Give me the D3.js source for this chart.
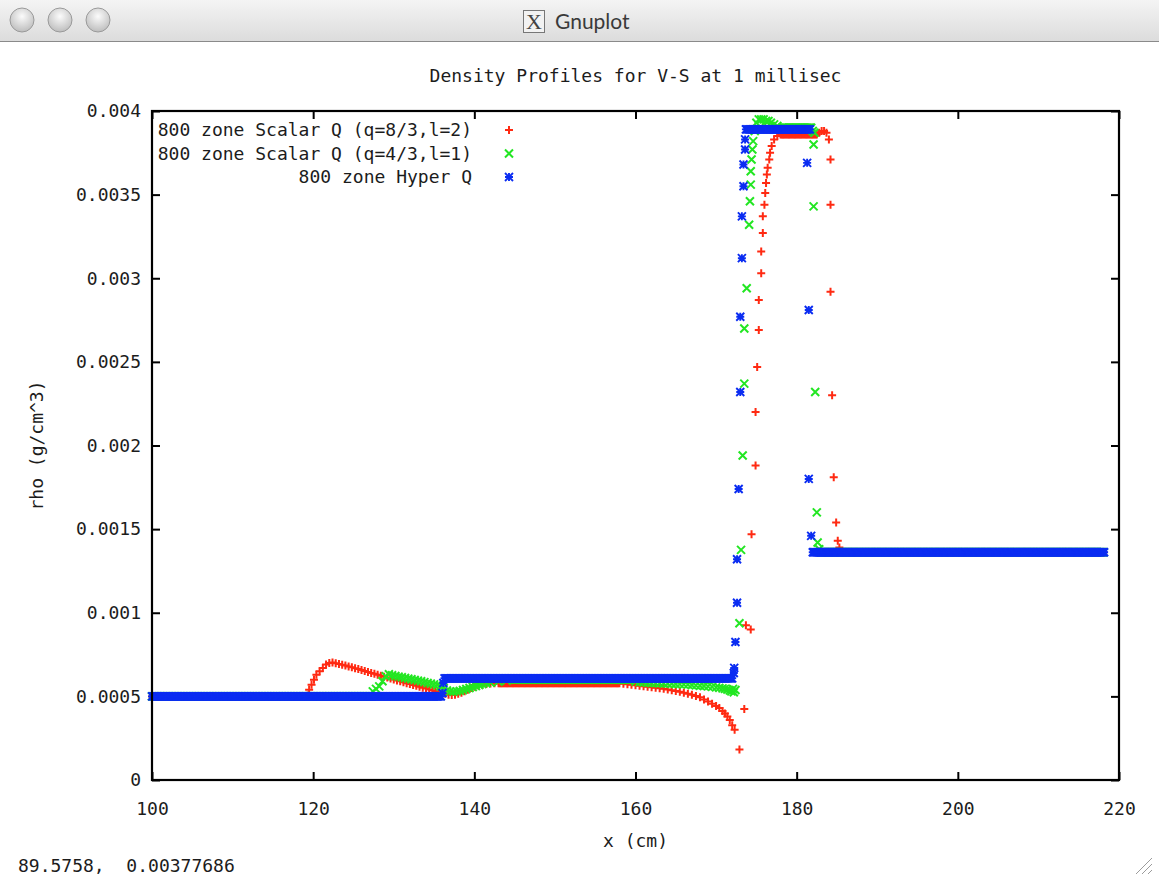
<!DOCTYPE html>
<html>
<head>
<meta charset="utf-8">
<script src="https://cdn.jsdelivr.net/npm/d3@7"></script>
<style>
  body { margin: 0; background: #fff; }
  svg text { font-family: "DejaVu Sans Mono", monospace; fill: #1c1c1c; }
</style>
</head>
<body>
<svg id="Vis" width="1159" height="882"></svg>
<script>

// ---- data ----
var xTicks = [100, 120, 140, 160, 180, 200, 220];
var yTicks = [0, 0.0005, 0.001, 0.0015, 0.002, 0.0025, 0.003, 0.0035, 0.004];

var seriesNames = ["800 zone Scalar Q (q=8/3,l=2)", "800 zone Scalar Q (q=4/3,l=1)", "800 zone Hyper Q"];
var seriesColors = ["#ff2a12", "#22e622", "#0a2cf2"];
var seriesMarks = ["plus", "cross", "star"];

var zoneDx = 0.15;   // mesh spacing of the flat runs

// flat runs: [xStart, xEnd, rho]
var scalar83Flat = [[100, 119.2, 0.0005], [143, 158, 0.000578], [178.0, 182.6, 0.00386], [185.4, 218.2, 0.001362]];
var scalar43Flat = [[100, 127.3, 0.0005], [145, 159.5, 0.0006], [178.2, 181.8, 0.0039], [183.0, 218.2, 0.001362]];
var hyperFlat    = [[100, 135.9, 0.0005], [136.3, 172.1, 0.000608], [173.7, 181.7, 0.00389], [182.0, 218.2, 0.001362]];

// single zones in the ramps and the shock: [x, rho]
var scalar83Pts = [
  [119.3,0.000505],[119.5,0.00054],[119.8,0.00057],[120.1,0.0006],[120.4,0.00063],[120.8,0.00065],
  [121.2,0.00067],[121.6,0.00069],[122.0,0.0007],[122.4,0.000702],[122.8,0.000698],[123.2,0.000694],
  [123.6,0.000689],[124.0,0.000684],[124.4,0.000679],[124.8,0.000674],[125.2,0.000668],[125.6,0.000663],
  [126.0,0.000657],[126.4,0.000651],[126.8,0.000645],[127.2,0.00064],[127.6,0.000635],[128.0,0.00063],
  [128.4,0.000624],[128.8,0.000618],[129.2,0.000613],[129.6,0.000607],[130.0,0.000601],[130.4,0.000595],
  [130.8,0.00059],[131.2,0.000584],[131.6,0.000579],[132.0,0.000574],[132.4,0.000568],[132.8,0.000563],
  [133.2,0.000558],[133.6,0.000552],[134.0,0.000547],[134.4,0.000541],[134.8,0.000536],[135.2,0.00053],
  [135.6,0.000526],[136.0,0.000522],[136.4,0.000515],[136.8,0.00051],[137.2,0.000508],[137.6,0.00051],
  [138.0,0.000515],[138.4,0.000522],[138.8,0.00053],[139.2,0.00054],[139.6,0.00055],[140.0,0.000558],
  [140.5,0.000565],[141.0,0.00057],[141.5,0.000574],[142.0,0.000577],[142.5,0.000578],
  [158.5,0.000575],[159.0,0.000572],[159.5,0.000569],[160.0,0.000566],[160.5,0.000563],[161.0,0.00056],
  [161.5,0.000557],[162.0,0.000554],[162.5,0.000551],[163.0,0.000548],[163.5,0.000545],[164.0,0.000541],
  [164.5,0.000537],[165.0,0.000532],[165.5,0.000527],[166.0,0.000521],[166.5,0.000515],[167.0,0.000509],
  [167.5,0.000502],[168.0,0.000495],[168.5,0.000482],[169.0,0.000469],[169.5,0.000456],[170.0,0.000442],
  [170.4,0.00043],[170.8,0.000412],[171.1,0.000398],[171.4,0.00038],[171.7,0.000358],[172.0,0.000328],
  [172.3,0.0003],[172.9,0.000182],[173.5,0.000425],[173.7,0.000925],[174.3,0.0009],[174.4,0.00147],
  [174.9,0.00188],[174.9,0.0022],[175.1,0.00247],[175.3,0.00269],[175.3,0.00287],[175.6,0.00303],
  [175.6,0.00316],[175.8,0.00327],[175.8,0.00337],[176.0,0.00344],[176.1,0.00351],[176.2,0.00357],
  [176.3,0.00362],[176.4,0.00366],[176.6,0.00371],[176.7,0.00375],[176.9,0.00379],[177.2,0.00383],
  [177.6,0.00385],[182.8,0.00387],[183.1,0.00388],[183.4,0.00388],[183.7,0.00387],[184.0,0.00383],
  [184.2,0.00371],[184.2,0.00344],[184.2,0.00292],[184.4,0.0023],[184.6,0.00181],[184.9,0.00154],
  [185.1,0.00143],[185.3,0.00139]
];

var scalar43Pts = [
  [127.4,0.00053],[127.8,0.000545],[128.2,0.00056],[128.6,0.00059],[129.0,0.00062],[129.4,0.000632],
  [129.8,0.000626],[130.2,0.000622],[130.6,0.000618],[131.0,0.000614],[131.4,0.00061],[131.8,0.000606],
  [132.2,0.000602],[132.6,0.000598],[133.0,0.000594],[133.4,0.00059],[133.8,0.000585],[134.2,0.00058],
  [134.6,0.000576],[135.0,0.000572],[135.4,0.000568],[135.8,0.00056],[136.2,0.00055],[136.6,0.000535],
  [137.0,0.00053],[137.4,0.000528],[137.8,0.00053],[138.2,0.000533],[138.6,0.000538],[139.0,0.000544],
  [139.4,0.00055],[139.8,0.000556],[140.2,0.000562],[140.6,0.000568],[141.0,0.000573],[141.5,0.000578],
  [142.0,0.000582],[143.0,0.000588],[144.0,0.000594],
  [160.0,0.000588],[160.5,0.000585],[161.0,0.000583],[161.5,0.000581],[162.0,0.00058],[162.5,0.000579],
  [163.0,0.000578],[163.5,0.000577],[164.0,0.000576],[164.5,0.000575],[165.0,0.000574],[165.5,0.000573],
  [166.0,0.000572],[166.5,0.00057],[167.0,0.000568],[167.5,0.000566],[168.0,0.000564],[168.5,0.000562],
  [169.0,0.00056],[169.5,0.000557],[170.0,0.000554],[170.4,0.000551],[170.8,0.000548],[171.1,0.000545],
  [171.4,0.000541],[171.7,0.000536],[171.9,0.00053],[172.1,0.000545],[172.2,0.000525],[172.4,0.000538],
  [172.9,0.000937],[173.1,0.001376],[173.3,0.00194],[173.5,0.00237],[173.5,0.0027],[173.8,0.00294],
  [174.1,0.00332],[174.2,0.00346],[174.3,0.00356],[174.3,0.00364],[174.4,0.00371],[174.5,0.00377],
  [174.6,0.00382],[174.8,0.00388],[175.0,0.00393],[175.3,0.00395],[175.6,0.00395],[175.9,0.00395],
  [176.2,0.00394],[176.5,0.00394],[176.8,0.00393],[177.2,0.00392],[177.6,0.00391],[182.0,0.00388],
  [182.2,0.00387],[182.1,0.0038],[182.1,0.00343],[182.3,0.00232],[182.5,0.0016],[182.6,0.00142],
  [182.8,0.00138]
];

var hyperPts = [
  [136.05,0.00052],[136.15,0.00058],[172.2,0.00064],[172.25,0.00067],[172.4,0.000825],[172.6,0.00106],
  [172.6,0.00132],[172.8,0.00174],[173.0,0.00232],[173.0,0.00277],[173.2,0.00312],[173.2,0.00337],
  [173.4,0.00355],[173.4,0.00368],[173.6,0.00377],[173.6,0.00383],[181.3,0.00369],[181.5,0.00281],
  [181.5,0.0018],[181.8,0.00146]
];

// ---- layout ----
var svg = d3.select("#Vis");
var plotLeft = 152, plotRight = 1119, plotTop = 111, plotBottom = 780;

var x = d3.scaleLinear().domain([100, 220]).range([plotLeft, plotRight]);
var y = d3.scaleLinear().domain([0, 0.004]).range([plotBottom, plotTop]);

// window chrome (mac title bar of the X11 window)
var grad = svg.append("defs").append("linearGradient").attr("id", "bar").attr("x1", 0).attr("y1", 0).attr("x2", 0).attr("y2", 1);
grad.append("stop").attr("offset", "0%").attr("stop-color", "#f4f4f4");
grad.append("stop").attr("offset", "100%").attr("stop-color", "#dcdcdc");
svg.append("rect").attr("x", 0).attr("y", 0).attr("width", 1159).attr("height", 41).attr("fill", "url(#bar)");
svg.append("line").attr("x1", 0).attr("x2", 1159).attr("y1", 41.5).attr("y2", 41.5).attr("stroke", "#8a8a8a");

var bGrad = svg.select("defs").append("radialGradient").attr("id", "btn").attr("cx", "50%").attr("cy", "35%").attr("r", "65%");
bGrad.append("stop").attr("offset", "0%").attr("stop-color", "#fbfbfb");
bGrad.append("stop").attr("offset", "100%").attr("stop-color", "#bdbdbd");
svg.selectAll(".btn").data([22, 60, 98]).join("circle")
   .attr("class", "btn")
   .attr("cx", function(d){ return d; }).attr("cy", 20).attr("r", 12)
   .attr("fill", "url(#btn)").attr("stroke", "#9a9a9a");

svg.append("rect").attr("x", 523.5).attr("y", 10.5).attr("width", 21).attr("height", 22)
   .attr("fill", "#f2f2f2").attr("stroke", "#777");
svg.append("text").attr("x", 534).attr("y", 29).attr("text-anchor", "middle")
   .style("font-family", "'Liberation Serif', serif").style("font-size", "22px").style("fill", "#444").text("X");
svg.append("text").attr("x", 555).attr("y", 29)
   .style("font-family", "'Lato', 'Open Sans', sans-serif").style("font-size", "21px").style("fill", "#3a3a3a").text("Gnuplot");

// resize grip
var grip = svg.append("g").attr("stroke", "#9c9c9c").attr("stroke-width", 1);
[0, 6, 12].forEach(function(o){
  grip.append("line").attr("x1", 1136 + o).attr("y1", 874).attr("x2", 1152).attr("y2", 858 + o);
});

// ---- axes ----
var fmt = function(d){ return d === 0 ? "0" : String(+d.toFixed(4)); };
var fontSize = "18px";

var gx = svg.append("g").attr("transform", "translate(0," + plotBottom + ")")
   .call(d3.axisBottom(x).tickValues(xTicks).tickSizeInner(-8).tickSizeOuter(0).tickPadding(22).tickFormat(d3.format("d")));
var gxTop = svg.append("g").attr("transform", "translate(0," + plotTop + ")")
   .call(d3.axisTop(x).tickValues(xTicks).tickSizeInner(-8).tickSizeOuter(0).tickFormat(""));
var gy = svg.append("g").attr("transform", "translate(" + plotLeft + ",0)")
   .call(d3.axisLeft(y).tickValues(yTicks).tickSizeInner(-8).tickSizeOuter(0).tickPadding(11).tickFormat(fmt));
var gyRight = svg.append("g").attr("transform", "translate(" + plotRight + ",0)")
   .call(d3.axisRight(y).tickValues(yTicks).tickSizeInner(-8).tickSizeOuter(0).tickFormat(""));

[gx, gxTop, gy, gyRight].forEach(function(g){
  g.select(".domain").remove();
  g.selectAll(".tick line").attr("stroke", "#000").attr("stroke-width", 2);
  g.selectAll(".tick text").style("font-family", "'DejaVu Sans Mono', monospace").style("font-size", fontSize).attr("fill", "#1c1c1c");
});

// ---- markers ----
var ms = 4;
function markPath(kind){
  var plus = "M" + (-ms) + ",0H" + ms + "M0," + (-ms) + "V" + ms;
  var cross = "M" + (-ms) + "," + (-ms) + "L" + ms + "," + ms + "M" + (-ms) + "," + ms + "L" + ms + "," + (-ms);
  if (kind === "plus") return plus;
  if (kind === "cross") return cross;
  return plus + cross;
}

function zones(flat, pts){
  var out = [];
  flat.forEach(function(run){
    for (var xx = run[0]; xx <= run[1] + 1e-9; xx += zoneDx) out.push([xx, run[2]]);
  });
  return out.concat(pts);
}

var seriesData = [zones(scalar83Flat, scalar83Pts), zones(scalar43Flat, scalar43Pts), zones(hyperFlat, hyperPts)];

var gData = svg.append("g");
seriesData.forEach(function(pts, i){
  gData.append("g")
     .attr("fill", "none")
     .attr("stroke", seriesColors[i])
     .attr("stroke-width", i === 2 ? 1.9 : 2)
     .selectAll("path").data(pts).join("path")
     .attr("d", markPath(seriesMarks[i]))
     .attr("transform", function(d){ return "translate(" + x(d[0]) + "," + y(d[1]) + ")"; });
});

// frame
svg.append("rect").attr("x", plotLeft).attr("y", plotTop)
   .attr("width", plotRight - plotLeft).attr("height", plotBottom - plotTop)
   .attr("fill", "none").attr("stroke", "#000").attr("stroke-width", 2.2);

// ---- legend ----
var legend = svg.append("g");
seriesNames.forEach(function(name, i){
  var ly = 130 + i * 23.5;
  legend.append("text").attr("x", 472).attr("y", ly).attr("dy", "0.35em")
     .attr("text-anchor", "end").style("font-size", fontSize).text(name);
  legend.append("path").attr("d", markPath(seriesMarks[i]))
     .attr("transform", "translate(509," + ly + ")")
     .attr("fill", "none").attr("stroke", seriesColors[i]).attr("stroke-width", i === 2 ? 1.9 : 2);
});

// ---- titles ----
svg.append("text").attr("x", (plotLeft + plotRight) / 2).attr("y", 82)
   .attr("text-anchor", "middle").style("font-size", fontSize).text("Density Profiles for V-S at 1 millisec");
svg.append("text").attr("x", (plotLeft + plotRight) / 2).attr("y", 847)
   .attr("text-anchor", "middle").style("font-size", fontSize).text("x (cm)");
svg.append("text").attr("transform", "translate(43," + ((plotTop + plotBottom) / 2) + ") rotate(-90)")
   .attr("text-anchor", "middle").style("font-size", fontSize).text("rho (g/cm^3)");

// mouse position readout
svg.append("text").attr("x", 18).attr("y", 872).style("font-size", fontSize)
   .style("white-space", "pre").text("89.5758,  0.00377686");

</script>
</body>
</html>
